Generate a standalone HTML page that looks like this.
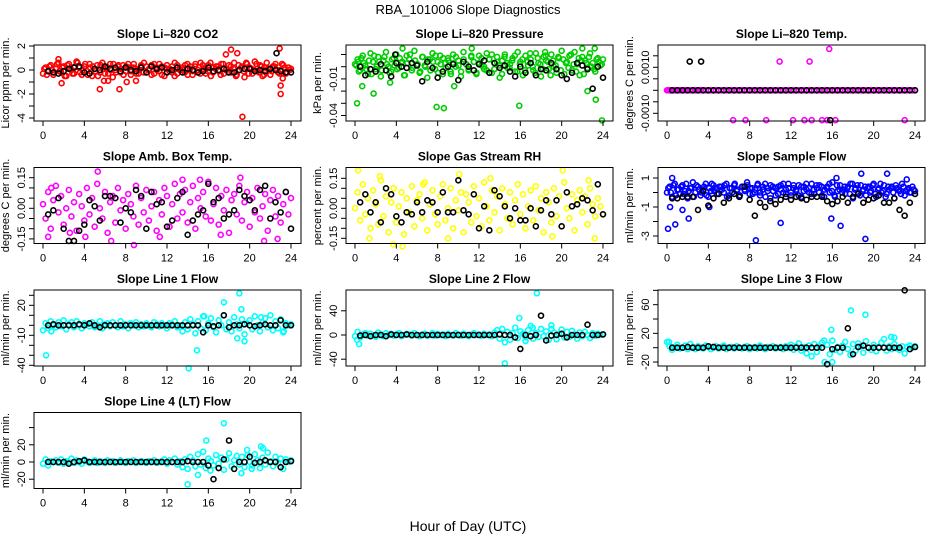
<!DOCTYPE html>
<html><head><meta charset="utf-8"><style>
html,body{margin:0;padding:0;background:#fff;}
svg{display:block;font-family:"Liberation Sans",Arial,sans-serif;}
</style></head><body>
<svg id="chart" width="936" height="540" viewBox="0 0 936 540" xmlns="http://www.w3.org/2000/svg">
<text x="468" y="14" text-anchor="middle" font-size="13">RBA_101006  Slope Diagnostics</text>
<text x="468" y="531" text-anchor="middle" font-size="14">Hour of Day (UTC)</text>
</svg>
<script>
const xTicks=[0,4,8,12,16,20,24];
const xTickLabels=["0","4","8","12","16","20","24"];

const p1Color=[-0.3,0.2,-0.1,0.4,-0.4,0.1,0.6,-0.2,0.3,-0.5,0.5,0.0,-0.3,0.7,0.2,-0.4,0.3,-0.1,0.5,-0.5,0.1,0.4,-0.2,0.6,-0.3,0.2,0.5,-0.6,0.0,0.3,-0.2,0.4,-0.1,0.5,-0.4,0.2,0.1,-0.3,0.4,-0.2,0.3,0.0,-0.4,0.5,0.2,-0.1,0.3,-0.5,0.4,0.1,-0.2,0.6,-0.3,0.2,0.0,0.4,-0.4,0.3,-0.1,0.5,-0.2,0.6,0.1,-0.3,0.4,-0.5,0.2,0.3,-0.1,0.5,-0.3,0.1,0.4,-0.2,0.6,-0.4,0.0,0.3,-0.6,0.5,0.2,-0.3,0.7,-0.1,0.4,-0.5,0.2,0.1,-0.4,0.3,0.5,-0.2,0.0,0.4,-0.3,0.2,0.1];
const p1Color2=[0.1,-0.4,0.3,0.0,-0.2,0.5,-0.1,0.2,-0.5,0.4,0.1,-0.3,0.3,0.6,-0.2,0.0,0.5,-0.4,0.2,0.3,-0.1,-0.5,0.4,0.1,0.2,-0.3,0.0,0.5,-0.2,0.4,0.1,-0.4,0.3,0.2,-0.1,0.5,-0.3,0.0,0.3,0.6,-0.2,0.1,0.4,-0.3,0.0,0.5,-0.4,0.2,0.1,-0.1,0.3,-0.5,0.4,0.0,0.2,-0.2,0.5,0.1,-0.4,0.3,0.0,-0.3,0.4,0.2,-0.1,0.6,-0.2,0.1,0.3,-0.4,0.5,0.0,-0.2,0.3,0.1,-0.5,0.4,0.2,-0.1,0.6,-0.3,0.1,0.0,0.5,-0.2,0.3,-0.4,0.6,0.1,-0.1,0.3,0.0,-0.3,0.5,0.2,-0.2,0.0];
const p1Black=[-0.1,-0.2,-0.3,-0.1,0.1,0.2,0.3,-0.2,-0.3,0.1,0.0,0.3,0.1,0.2,-0.1,0.2,0.0,-0.1,0.2,-0.2,0.3,0.1,0.2,-0.2,0.0,0.2,-0.2,0.1,0.0,-0.2,-0.1,0.2,-0.1,0.0,0.1,-0.2,-0.2,0.0,0.1,0.1,-0.1,0.0,-0.1,0.1,0.0,-0.1,-0.2,-0.2];
const p1ExtraT=[1.8,5.5,7.4,17.7,18.2,18.8,19.3,22.9,23.0,23.0,23.2,1.5,9.0,5.9,6.3,8.1];
const p1ExtraV=[-1.1,-1.6,-1.6,1.3,1.7,1.4,-3.9,1.8,-2.0,-1.3,-0.7,0.9,-0.9,-0.9,-0.9,-1.0];
const p1BlackExtraT=[22.6];
const p1BlackExtraV=[1.4];
const p1Ticks=[2,1,0,-1,-2,-3,-4];
const p1TickLabels=["2","","0","","-2","","-4"];

const p2Color=[0.002,0.006,-0.003,0.009,0.001,-0.006,0.011,0.004,-0.002,0.008,-0.008,0.005,0.012,0.000,-0.004,0.007,0.010,-0.001,0.003,-0.007,0.009,0.006,-0.003,0.013,0.002,-0.005,0.008,0.001,-0.009,0.006,0.011,-0.002,0.004,0.009,-0.006,0.003,0.007,-0.004,0.010,0.000,0.005,-0.008,0.012,0.002,-0.003,0.008,0.004,-0.006,0.009,0.001,-0.002,0.011,0.006,-0.005,0.003,0.008,-0.009,0.005,0.010,-0.001,0.002,0.007,-0.004,0.012,0.004,-0.007,0.009,0.001,0.006,-0.003,0.011,0.003,-0.008,0.008,0.005,-0.002,0.010,0.000,-0.005,0.007,0.013,-0.006,0.004,0.009,-0.003,0.012,0.002,-0.007,0.008,0.005,-0.001,0.011,0.003,-0.004,0.007,0.001,0.006];
const p2Color2=[0.001,-0.004,0.007,0.003,-0.002,0.005,-0.006,0.009,0.000,0.004,-0.003,0.008,0.002,-0.005,0.006,0.001,-0.002,0.007,0.004,-0.007,0.003,0.010,-0.001,0.005,0.002,-0.004,0.008,0.000,0.006,-0.003,0.004,0.009,-0.005,0.002,0.007,-0.001,0.005,-0.006,0.003,0.008,0.001,-0.004,0.006,0.002,-0.002,0.009,0.004,-0.005,0.003,0.007,0.000,-0.003,0.006,0.010,-0.002,0.004,0.001,-0.006,0.008,0.003,-0.001,0.005,0.009,-0.004,0.002,0.006,-0.003,0.004,0.011,0.000,-0.005,0.007,0.002,-0.002,0.009,0.004,-0.007,0.005,0.001,0.008,-0.003,0.006,0.003,-0.001,0.010,0.002,-0.004,0.007,0.005,-0.006,0.003,0.008,0.000,-0.002,0.006,0.004,0.002];
const p2Black=[0.000,-0.007,-0.002,-0.004,0.002,-0.003,-0.008,0.003,0.000,-0.001,0.003,0.001,-0.012,0.004,-0.001,-0.009,-0.004,0.000,0.002,-0.011,0.004,0.000,-0.003,0.002,0.005,-0.005,0.003,-0.001,0.001,-0.004,-0.008,0.000,-0.005,0.003,-0.007,-0.002,-0.003,0.003,-0.002,-0.007,-0.010,-0.005,0.003,0.001,-0.002,-0.018,0.000,-0.009];
const p2ExtraT=[0.2,0.7,1.8,3.4,7.9,8.6,15.9,23.3,23.9,9.6,22.5,4.6,11.3,22.0,23.2,18.4,0.3];
const p2ExtraV=[-0.030,-0.016,-0.022,-0.013,-0.033,-0.034,-0.032,-0.027,-0.044,-0.016,-0.020,0.015,0.015,0.015,0.015,0.012,0.004];
const p2BlackExtraT=[3.9];
const p2BlackExtraV=[0.010];
const p2Ticks=[0.01,0,-0.01,-0.02,-0.03,-0.04];
const p2TickLabels=["","","-0.01","","","-0.04"];

const p3Color=[0,0,0,0,0,0,0,0,0,0,0,0,0,0,0,0,0,0,0,0,0,0,0,0,0,0,0,0,0,0,0,0,0,0,0,0,0,0,0,0,0,0,0,0,0,0,0,0,0,0,0,0,0,0,0,0,0,0,0,0,0,0,0,0,0,0,0,0,0,0,0,0,0,0,0,0,0,0,0,0,0,0,0,0,0,0,0,0,0,0,0,0,0,0,0,0,0];
const p3Black=[0,0,0,0,0,0,0,0,0,0,0,0,0,0,0,0,0,0,0,0,0,0,0,0,0,0,0,0,0,0,0,0,0,0,0,0,0,0,0,0,0,0,0,0,0,0,0,0];
const p3ExtraT=[6.4,7.6,9.6,12.2,13.3,14.0,15.0,15.5,16.3,23.0,10.9,13.8,15.7,0.1,0.3,0.6,0.9,1.2,1.6,1.9,2.5,2.8,3.1,3.5];
const p3ExtraV=[-0.0013,-0.0013,-0.0013,-0.0013,-0.0013,-0.0013,-0.0013,-0.0013,-0.0013,-0.0013,0.00125,0.00125,0.0018,0,0,0,0,0,0,0,0,0,0,0];
const p3BlackExtraT=[2.2,3.3,15.8];
const p3BlackExtraV=[0.00125,0.00125,-0.0013];
const p3Ticks=[0.0015,0.001,0.0005,0,-0.0005,-0.001];
const p3TickLabels=["","0.0010","","","","-0.0010"];

const p4Color=[0.02,-0.05,0.08,-0.10,0.04,0.11,-0.02,0.06,-0.08,0.00,0.09,-0.04,0.03,-0.11,0.07,0.01,-0.06,0.10,-0.03,0.05,-0.09,0.12,0.00,-0.05,0.08,-0.12,0.03,0.06,-0.07,0.10,-0.01,0.04,-0.10,0.07,0.02,-0.04,0.11,-0.08,0.05,-0.02,0.09,-0.06,0.01,0.08,-0.11,0.04,-0.03,0.10,0.06,-0.09,0.02,0.12,-0.05,0.07,-0.02,0.09,-0.07,0.03,0.11,-0.10,0.05,0.00,0.08,-0.04,0.13,-0.06,0.02,0.10,-0.08,0.06,-0.01,0.09,-0.12,0.04,0.07,-0.03,0.11,-0.06,0.03,0.08,-0.09,0.05,-0.02,0.10,-0.05,0.01,0.07,-0.11,0.04,0.09,-0.04,0.06,-0.07,0.02,0.08,-0.03,0.05];
const p4Black=[-0.03,-0.01,0.05,-0.10,-0.16,-0.16,-0.11,-0.08,0.04,0.01,-0.06,0.06,0.06,0.05,-0.07,0.00,-0.02,0.09,0.06,-0.10,0.08,0.02,0.03,-0.09,-0.06,0.05,0.08,-0.13,-0.06,-0.03,-0.01,0.12,0.03,0.05,-0.05,-0.03,-0.01,0.09,0.06,0.04,-0.01,0.09,0.11,-0.05,0.03,-0.02,0.08,-0.10];
const p4ExtraT=[0.5,4.1,8.8,5.3,13.5,19.1,21.4,2.6,6.6,11.3,17.2,22.7,0.8,15.2];
const p4ExtraV=[-0.14,-0.14,-0.18,0.18,0.14,0.15,-0.16,-0.12,-0.16,-0.14,-0.13,-0.15,0.10,0.14];
const p4BlackExtraT=[];
const p4BlackExtraV=[];
const p4Ticks=[0.15,0.1,0.05,0,-0.05,-0.1,-0.15];
const p4TickLabels=["0.15","","","0.00","","","-0.15"];

const p5Color=[0.00,0.08,-0.06,0.12,-0.03,0.05,-0.10,0.09,0.02,-0.08,0.14,-0.04,0.06,-0.12,0.03,0.10,-0.07,0.01,0.08,-0.13,0.05,-0.02,0.11,-0.09,0.04,0.07,-0.05,0.13,-0.11,0.02,0.09,-0.03,-0.08,0.06,0.12,-0.06,0.00,0.10,-0.10,0.04,-0.01,0.08,-0.12,0.07,0.03,-0.07,0.11,-0.04,0.05,-0.09,0.13,0.01,-0.06,0.09,-0.02,0.06,-0.11,0.10,0.02,-0.05,0.08,-0.08,0.04,0.12,-0.03,0.07,-0.10,0.01,0.09,-0.06,0.11,-0.01,0.05,-0.12,0.08,0.03,-0.07,0.10,-0.04,0.06,-0.09,0.13,0.00,-0.05,0.07,-0.11,0.04,0.09,-0.02,0.06,-0.08,0.10,0.02,-0.04,0.05,0.01,-0.03];
const p5Black=[0.03,0.07,-0.02,0.03,-0.07,0.10,0.07,-0.04,-0.07,-0.02,-0.03,0.03,-0.02,0.04,0.03,-0.02,0.08,-0.02,-0.02,0.14,-0.01,-0.03,0.07,-0.10,0.01,-0.11,0.09,0.06,0.01,-0.05,0.00,-0.06,-0.06,0.00,-0.09,-0.01,0.04,-0.03,0.04,-0.09,0.08,0.01,0.02,0.05,0.04,-0.01,0.12,-0.03];
const p5ExtraT=[0.3,2.4,4.6,10.1,20.1,3.7,1.4,23.2,19.1,9.0,22.6,6.6,13.1];
const p5ExtraV=[0.19,0.16,-0.19,0.17,0.19,-0.18,-0.15,-0.15,-0.14,-0.15,0.14,0.12,0.15];
const p5BlackExtraT=[];
const p5BlackExtraV=[];
const p5Ticks=[0.15,0.1,0.05,0,-0.05,-0.1,-0.15];
const p5TickLabels=["0.15","","","0.00","","","-0.15"];

const p6Color=[0.0,0.4,-0.3,0.6,0.2,-0.1,0.5,0.1,-0.4,0.3,0.7,0.0,0.4,-0.2,0.2,0.6,-0.3,0.1,0.5,0.3,-0.1,0.4,0.0,0.6,-0.2,0.3,0.5,0.1,-0.3,0.4,0.2,0.7,-0.1,0.3,0.0,0.5,-0.2,0.2,0.6,0.1,-0.4,0.4,0.3,-0.1,0.5,0.0,0.2,0.6,-0.2,0.3,0.1,0.5,-0.3,0.4,0.2,0.0,0.6,-0.1,0.3,0.5,-0.2,0.2,0.4,0.0,0.7,-0.3,0.1,0.5,0.2,-0.1,0.4,0.6,-0.4,0.3,0.0,0.5,0.2,-0.2,0.4,0.1,0.6,-0.3,0.3,0.0,0.5,-0.1,0.2,0.4,-0.4,0.3,0.1,0.6,-0.2,0.2,0.0,0.4,0.1];
const p6Color2=[0.3,0.0,0.5,-0.2,0.2,0.4,-0.1,0.6,0.1,0.3,-0.3,0.5,0.2,0.0,0.4,-0.2,0.3,0.6,0.1,-0.1,0.4,0.2,0.5,-0.3,0.3,0.0,0.6,0.2,-0.2,0.4,0.1,0.5,0.3,-0.1,0.2,0.6,0.0,0.4,-0.3,0.3,0.5,0.1,-0.2,0.4,0.2,0.6,-0.1,0.3,0.0,0.5,0.2,-0.2,0.4,0.1,0.6,0.3,-0.1,0.2,0.5,0.0,0.4,-0.3,0.3,0.6,0.1,-0.2,0.5,0.2,0.0,0.4,0.3,-0.1,0.6,0.2,0.5,-0.2,0.1,0.4,0.3,0.0,0.5,-0.1,0.2,0.6,0.1,-0.3,0.4,0.3,0.0,0.5,0.2,-0.1,0.4,0.1,0.3,0.0,0.2];
const p6Black=[-0.4,-0.4,-0.3,-0.3,-0.3,-1.2,0.1,-0.9,-0.4,-0.1,-0.7,-0.4,-0.1,-0.3,0.4,-0.5,-1.6,-0.7,-1.0,-0.6,-0.8,-0.5,-0.3,-0.5,-0.3,-0.4,-0.5,-0.3,-0.3,-0.3,-0.6,-0.8,-0.6,-0.3,-0.7,-0.3,-0.1,-0.7,-0.5,-0.4,-0.2,-0.7,-0.7,-0.4,-1.2,-1.6,-0.7,-0.1];
const p6ExtraT=[0.1,0.3,0.5,0.8,1.5,2.1,4.1,8.6,11.0,15.9,16.4,16.8,18.8,19.2,21.3,23.2];
const p6ExtraV=[-2.5,-1.0,1.0,-2.2,-1.2,-1.8,-1.0,-3.3,-2.1,-1.8,1.0,-2.3,1.3,-3.2,1.3,0.9];
const p6BlackExtraT=[];
const p6BlackExtraV=[];
const p6Ticks=[1,0,-1,-2,-3];
const p6TickLabels=["1","","-1","","-3"];

const p7Color=[-5,2,-3,4,0,-2,3,-1,5,-4,1,3,-2,4,0,-3,2,1,-1,3,-2,0,4,-3,1,2,-1,3,0,-2,4,-1,1,-3,2,0,3,-2,1,-1,2,0,-2,3,1,-1,2,0,-3,2,1,4,-2,0,-6,3,-4,6,1,-8,4,-3,9,-5,2,7,-2,-7,5,0,10,-4,3,-6,8,1,-3,6,-9,2,5,-4,9,0,-6,3,7,-2,10,-5,4,-3,6,-7,2,0,1];
const p7Black=[0,1,0,0,0,0,1,0,2,0,-2,0,0,0,0,0,0,0,0,0,0,0,0,0,0,0,0,0,0,0,-7,0,-1,0,10,-2,0,0,1,0,-1,0,1,0,0,5,0,0];
const p7ExtraT=[0.3,14.1,14.9,17.5,19.0,19.2,18.8,19.5,15.6,0.8,21.1,23.3];
const p7ExtraV=[-30,-43,-25,23,32,16,-13,-16,9,-6,8,-6];
const p7BlackExtraT=[];
const p7BlackExtraV=[];
const p7Ticks=[30,20,10,0,-10,-20,-30,-40];
const p7TickLabels=["","20","","","-10","","","-40"];

const p8Color=[-2,5,-4,1,3,-1,2,0,-3,4,1,-2,3,0,2,-1,1,3,-2,0,2,1,-1,3,0,-2,1,2,-1,0,3,-1,2,0,1,-2,2,0,-1,3,1,-1,2,0,-2,1,3,0,1,-1,2,0,1,-2,4,8,-6,10,-12,5,-8,3,12,-5,6,2,-4,8,15,-6,3,-3,10,-2,6,-8,16,4,-7,2,9,-4,5,-3,7,1,-6,4,-2,5,0,-5,3,-1,2,0,1];
const p8Black=[-1,0,-2,0,0,-2,1,0,0,1,0,0,0,0,0,0,0,0,0,0,0,0,0,0,0,0,0,1,0,0,-4,-23,0,-2,0,32,-9,-1,0,2,-4,0,0,0,17,0,0,1];
const p8ExtraT=[0.2,0.4,14.5,17.6,15.9,17.2,19.0,16.5];
const p8ExtraV=[-8,-15,-47,69,28,12,10,-10];
const p8BlackExtraT=[];
const p8BlackExtraV=[];
const p8Ticks=[40,0,-40];
const p8TickLabels=["40","0","-40"];

const p9Color=[8,2,-3,1,4,-1,0,3,-2,5,1,-2,2,0,-1,3,1,-2,0,2,-1,1,3,-2,0,1,-1,2,0,-1,1,2,-2,0,1,-1,3,0,-2,1,0,2,-1,0,1,-2,2,0,4,-3,2,6,-4,1,-8,3,-12,5,-6,2,7,-20,4,-9,10,-3,1,-6,3,8,-2,-10,5,-4,6,2,-7,9,0,-3,4,-5,1,7,12,-4,2,-2,5,-1,-3,2,-8,1,3,0,2];
const p9Black=[0,0,0,1,0,0,0,2,1,0,0,0,0,0,0,0,0,0,0,0,0,0,0,0,0,0,0,0,0,0,-23,-2,0,0,27,-9,1,3,0,0,0,0,0,0,0,80,-2,1];
const p9ExtraT=[16.0,17.8,19.2,15.9,0.2,15.2,22.0,21.7];
const p9ExtraV=[-20,52,46,25,8,10,14,15];
const p9BlackExtraT=[];
const p9BlackExtraV=[];
const p9Ticks=[80,60,40,20,0,-20];
const p9TickLabels=["","60","","20","","-20"];

const p10Color=[-2,3,-4,1,0,2,-1,3,-2,1,0,4,-1,2,0,-2,3,1,-1,0,2,-1,1,0,-1,2,0,1,-1,0,2,0,-1,1,0,2,-1,0,1,0,-1,1,0,2,-1,0,1,3,-2,2,0,4,-3,1,-6,3,-8,6,2,-5,9,-3,12,-7,4,1,-4,8,-2,5,-9,3,10,-5,2,7,-3,6,-6,14,0,-4,9,2,-7,5,-3,11,1,-5,6,-2,4,-8,3,0,2];
const p10Black=[0,0,0,0,-2,0,1,2,0,0,0,0,0,0,0,0,0,0,0,0,0,0,0,0,0,0,0,1,0,0,0,-4,-20,-7,3,25,-8,0,0,6,-1,0,2,0,0,-6,0,1];
const p10ExtraT=[14.0,15.8,17.5,15.0,21.1,21.3,19.2,20.2,16.2,19.8];
const p10ExtraV=[-26,25,45,-15,18,16,-13,-8,-10,8];
const p10BlackExtraT=[];
const p10BlackExtraV=[];
const p10Ticks=[40,20,0,-20];
const p10TickLabels=["","20","0","-20"];

// layout (not data): column origin, row top, zero pixel, pixels per unit
const colX0=[43,355,667];
const rowTop=[45,167.5,290,412.5];
const layout=[
 {c:0,r:0,title:"Slope Li\u2013820 CO2",ylab:"Licor ppm per min.",col:"#ff0000",z:70,k:12,d:[p1Color,p1Black,p1ExtraT,p1ExtraV,p1BlackExtraT,p1BlackExtraV,p1Ticks,p1TickLabels,p1Color2]},
 {c:1,r:0,title:"Slope Li\u2013820 Pressure",ylab:"kPa per min.",col:"#00cd00",z:66.7,k:1220,d:[p2Color,p2Black,p2ExtraT,p2ExtraV,p2BlackExtraT,p2BlackExtraV,p2Ticks,p2TickLabels,p2Color2]},
 {c:2,r:0,title:"Slope Li\u2013820 Temp.",ylab:"degrees C per min.",col:"#ff00ff",z:90.3,k:23000,d:[p3Color,p3Black,p3ExtraT,p3ExtraV,p3BlackExtraT,p3BlackExtraV,p3Ticks,p3TickLabels]},
 {c:0,r:1,title:"Slope Amb. Box Temp.",ylab:"degrees C per min.",col:"#ff00ff",z:208.3,k:204,d:[p4Color,p4Black,p4ExtraT,p4ExtraV,p4BlackExtraT,p4BlackExtraV,p4Ticks,p4TickLabels]},
 {c:1,r:1,title:"Slope Gas Stream RH",ylab:"percent per min.",col:"#ffff00",z:208.3,k:200,d:[p5Color,p5Black,p5ExtraT,p5ExtraV,p5BlackExtraT,p5BlackExtraV,p5Ticks,p5TickLabels]},
 {c:2,r:1,title:"Slope Sample Flow",ylab:"ml/min per min.",col:"#0000ff",z:192.5,k:14.5,d:[p6Color,p6Black,p6ExtraT,p6ExtraV,p6BlackExtraT,p6BlackExtraV,p6Ticks,p6TickLabels,p6Color2]},
 {c:0,r:2,title:"Slope Line 1 Flow",ylab:"ml/min per min.",col:"#00ffff",z:325.3,k:1.0,d:[p7Color,p7Black,p7ExtraT,p7ExtraV,p7BlackExtraT,p7BlackExtraV,p7Ticks,p7TickLabels]},
 {c:1,r:2,title:"Slope Line 2 Flow",ylab:"ml/min per min.",col:"#00ffff",z:335,k:0.605,d:[p8Color,p8Black,p8ExtraT,p8ExtraV,p8BlackExtraT,p8BlackExtraV,p8Ticks,p8TickLabels]},
 {c:2,r:2,title:"Slope Line 3 Flow",ylab:"ml/min per min.",col:"#00ffff",z:347.7,k:0.717,d:[p9Color,p9Black,p9ExtraT,p9ExtraV,p9BlackExtraT,p9BlackExtraV,p9Ticks,p9TickLabels]},
 {c:0,r:3,title:"Slope Line 4 (LT) Flow",ylab:"ml/min per min.",col:"#00ffff",z:462,k:0.86,d:[p10Color,p10Black,p10ExtraT,p10ExtraV,p10BlackExtraT,p10BlackExtraV,p10Ticks,p10TickLabels]}
];
const NS="http://www.w3.org/2000/svg";
const svg=document.getElementById('chart');
function mk(tag,attrs,parent){const e=document.createElementNS(NS,tag);for(const a in attrs)e.setAttribute(a,attrs[a]);parent.appendChild(e);return e;}
layout.forEach((P,pi)=>{
 const x0=colX0[P.c], top=rowTop[P.r], bottom=top+76;
 const xs=t=>x0+t*248/24;
 const ys=v=>P.z-v*P.k;
 const [colV,blkV,exT,exV,bexT,bexV,ticks,tickLabels,colV2]=P.d;
 const g=mk('g',{},svg);
 
 
 const L=x0-9,R=x0+258;
 const t=mk('text',{x:(L+R)/2,y:top-7,'text-anchor':'middle','font-size':12,'font-weight':'bold'},g);
 t.textContent=P.title;
 
 
 const yl=mk('text',{x:L-25,y:(top+bottom)/2,'text-anchor':'middle','font-size':11,transform:`rotate(-90 ${L-25} ${(top+bottom)/2})`},g);
 yl.textContent=P.ylab;
 
 
 const pts=mk('g',{fill:'none','stroke-width':1.6},g);
 
 
 const n=colV.length;
 colV.forEach((v,i)=>{const c=mk('circle',{cx:xs(i*24/(n-1)),cy:ys(v),r:2.5,stroke:P.col},pts);
  
  });
 if(colV2){const n2=colV2.length;
  colV2.forEach((v,i)=>{const c=mk('circle',{cx:xs((i+0.5)*24/n2),cy:ys(v),r:2.5,stroke:P.col},pts);
   
   });}
 exT.forEach((tt,i)=>{const c=mk('circle',{cx:xs(tt),cy:ys(exV[i]),r:2.5,stroke:P.col},pts);
  
  });
 const m=blkV.length;
 blkV.forEach((v,i)=>{const c=mk('circle',{cx:xs(0.5+i*23.5/(m-1)),cy:ys(v),r:2.5,stroke:'#000'},pts);
  
  });
 bexT.forEach((tt,i)=>{const c=mk('circle',{cx:xs(tt),cy:ys(bexV[i]),r:2.5,stroke:'#000'},pts);
  
  });
 const box=mk('rect',{x:L,y:top,width:R-L,height:76,fill:'none',stroke:'#000','stroke-width':1},g);
 
 
 xTicks.forEach((tv,i)=>{const x=xs(tv);
  const tk=mk('line',{x1:x,x2:x,y1:bottom,y2:bottom+5,stroke:'#000'},g);
  
  
  const lb=mk('text',{x:x,y:bottom+18,'text-anchor':'middle','font-size':11},g);
  lb.textContent=xTickLabels[i];
  
  });
 ticks.forEach((tv,i)=>{const y=ys(tv);
  const tk=mk('line',{x1:L-5,x2:L,y1:y,y2:y,stroke:'#000'},g);
  
  
  if(tickLabels[i]){const lb=mk('text',{x:L-9,y:y,'text-anchor':'middle','font-size':11,transform:`rotate(-90 ${L-9} ${y})`},g);
   lb.textContent=tickLabels[i];
   
   }});
});
</script>
</body></html>
